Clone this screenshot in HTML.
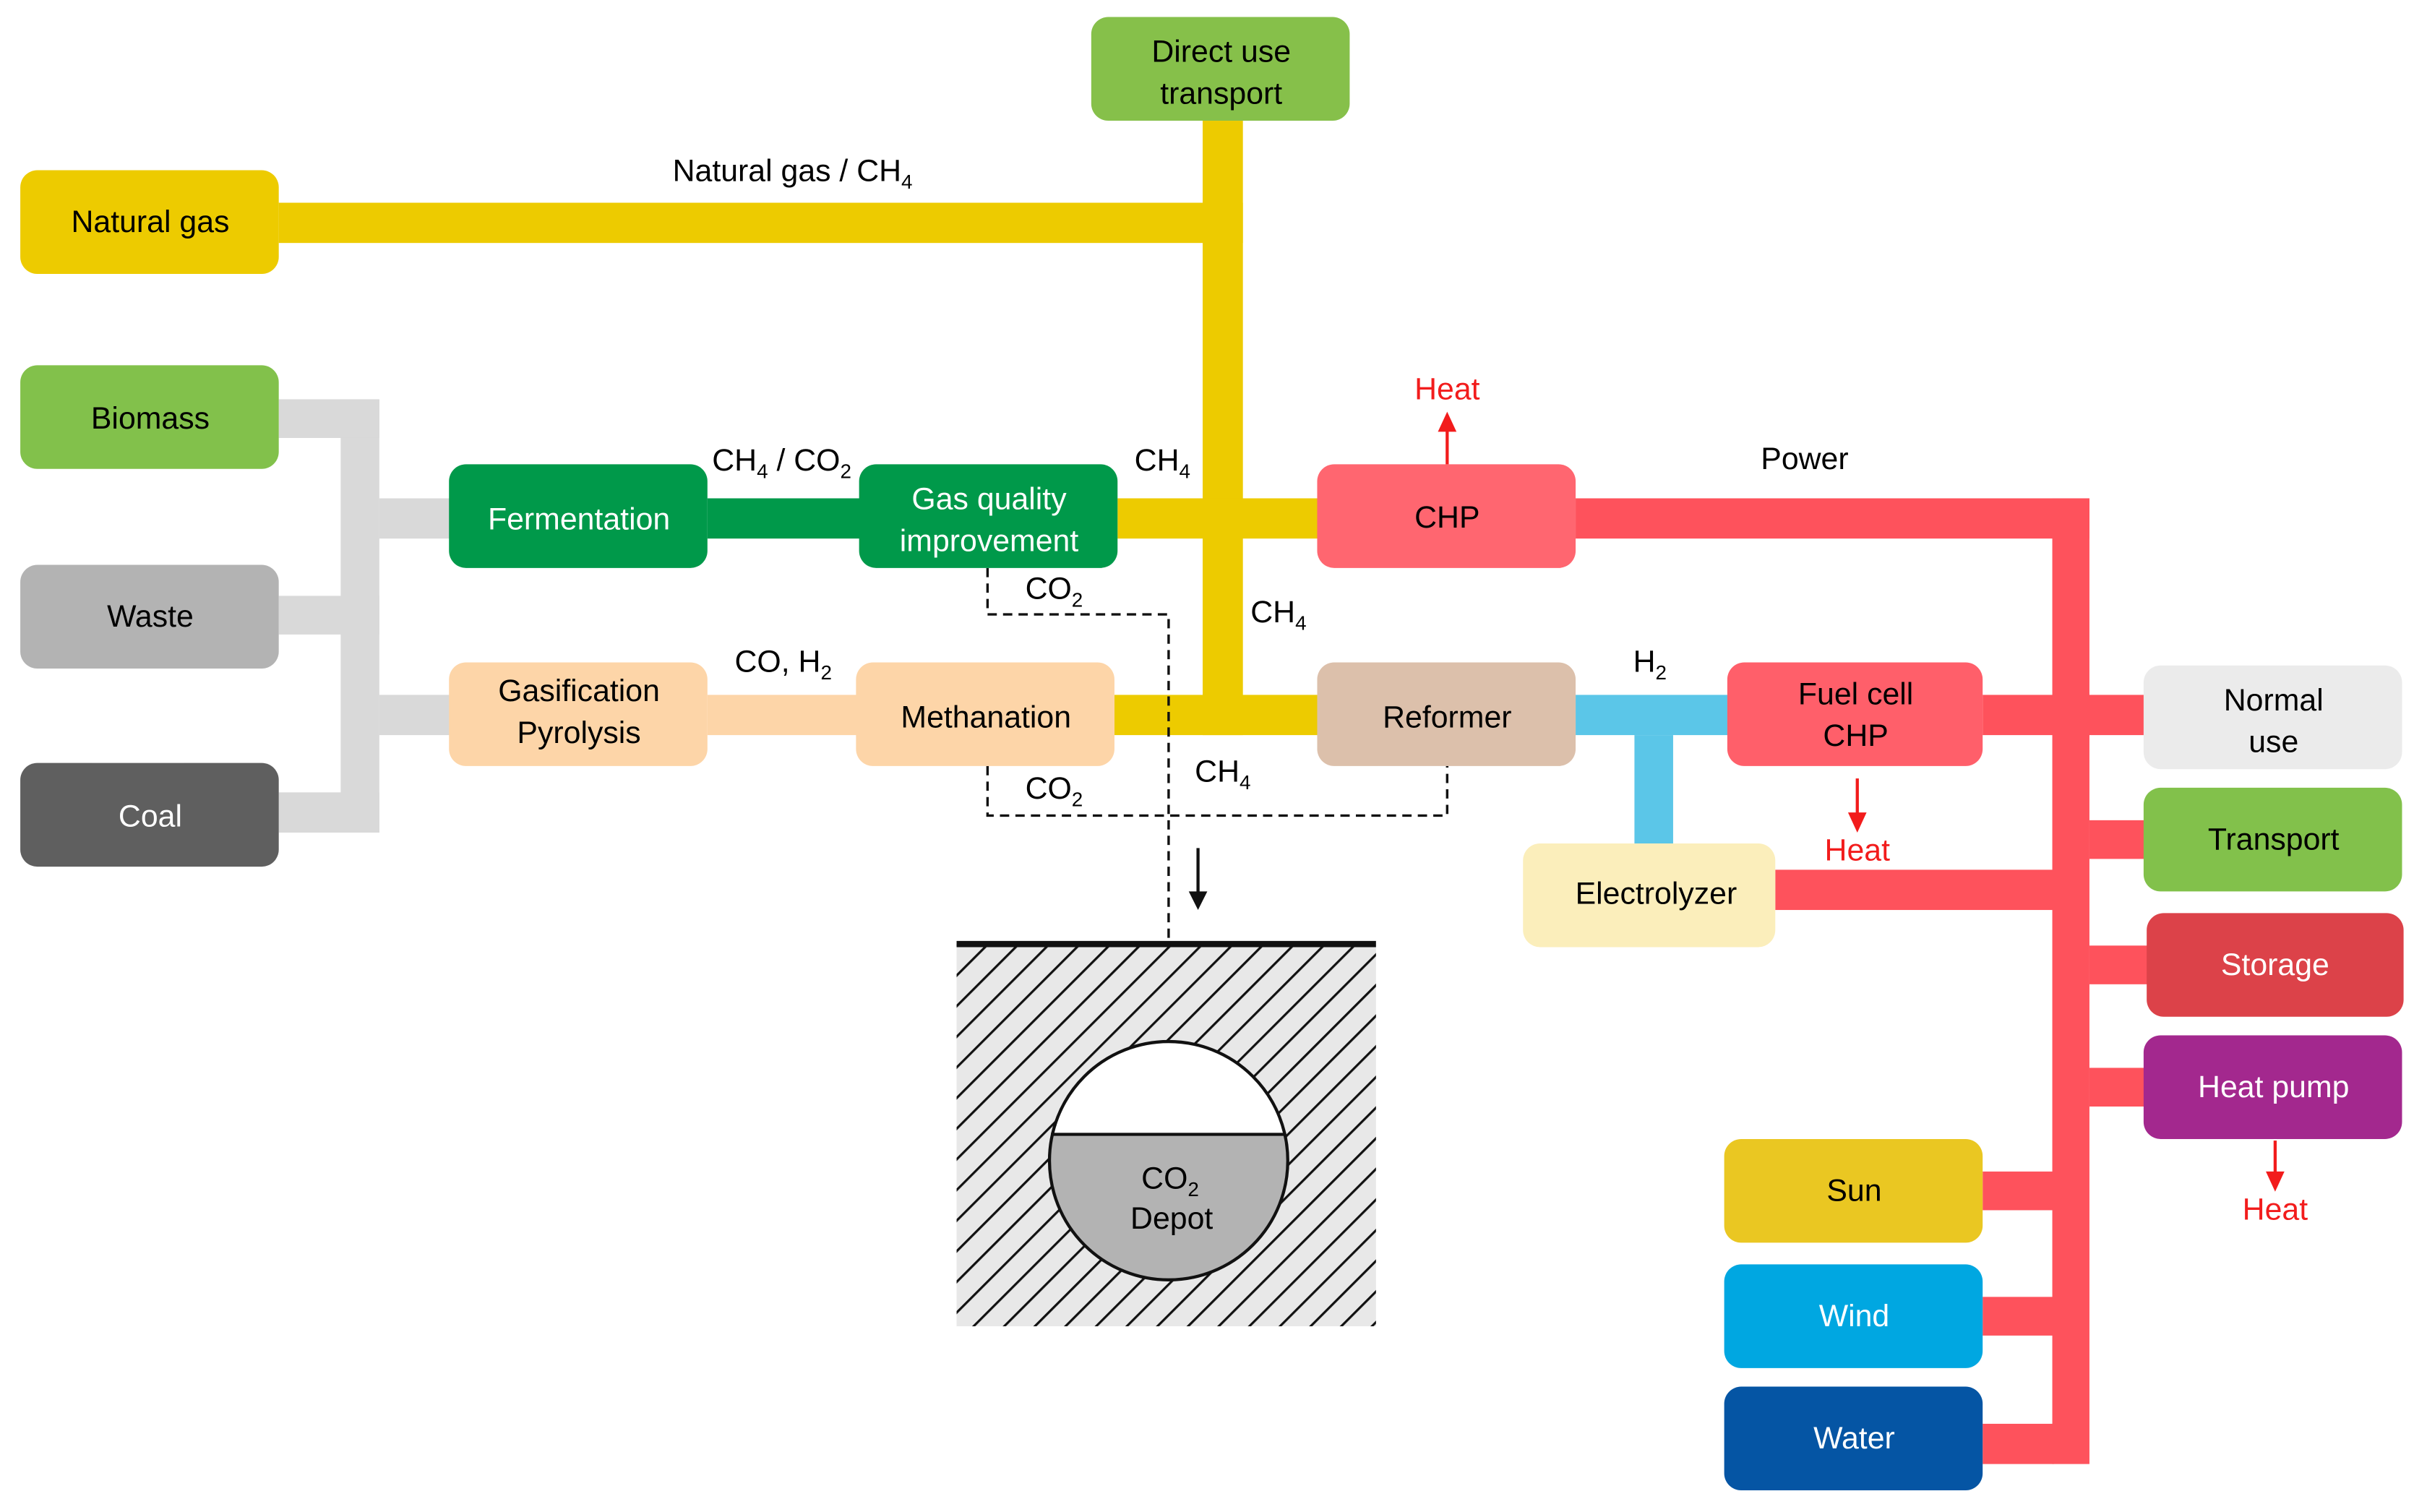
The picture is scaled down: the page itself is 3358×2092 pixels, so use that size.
<!DOCTYPE html>
<html><head><meta charset="utf-8"><style>
html,body{margin:0;padding:0;background:#fff;}
svg{display:block;}
text{font-family:"Liberation Sans Narrow","Liberation Sans",sans-serif;font-size:20px;text-anchor:middle;}
</style></head><body>
<svg width="3358" height="2092" viewBox="0 0 1568 977" xmlns="http://www.w3.org/2000/svg">
<defs>
<pattern id="hatch" patternUnits="userSpaceOnUse" width="14" height="14" patternTransform="rotate(45)">
<rect width="14" height="14" fill="#e8e8e8"/>
<line x1="0" y1="0" x2="0" y2="14" stroke="#111" stroke-width="3"/>
</pattern>
<clipPath id="bot"><rect x="670" y="733" width="170" height="100"/></clipPath>
</defs>
<!-- yellow -->
<rect x="180" y="131" width="623" height="26" fill="#edcb00"/>
<rect x="777" y="78" width="26" height="397" fill="#edcb00"/>
<rect x="722" y="322" width="130" height="26" fill="#edcb00"/>
<rect x="720" y="449" width="132" height="26" fill="#edcb00"/>
<!-- gray -->
<rect x="220" y="258" width="25" height="280" fill="#d9d9d9"/>
<rect x="180" y="258" width="65" height="25" fill="#d9d9d9"/>
<rect x="180" y="385" width="65" height="25" fill="#d9d9d9"/>
<rect x="180" y="512" width="65" height="26" fill="#d9d9d9"/>
<rect x="245" y="322" width="46" height="26" fill="#d9d9d9"/>
<rect x="245" y="449" width="46" height="26" fill="#d9d9d9"/>
<!-- green / peach -->
<rect x="457" y="322" width="99" height="26" fill="#00994a"/>
<rect x="457" y="449" width="97" height="26" fill="#fdd5a8"/>
<!-- red -->
<g fill="#fe525c">
<rect x="1018" y="322" width="332" height="26"/>
<rect x="1326" y="322" width="24" height="624"/>
<rect x="1281" y="449" width="105" height="26"/>
<rect x="1350" y="530" width="36" height="25"/>
<rect x="1350" y="611" width="38" height="25"/>
<rect x="1350" y="690" width="36" height="25"/>
<rect x="1147" y="562" width="180" height="26"/>
<rect x="1281" y="757" width="46" height="25"/>
<rect x="1281" y="838" width="46" height="25"/>
<rect x="1281" y="920" width="46" height="26"/>
</g>
<!-- blue -->
<rect x="1018" y="449" width="99" height="26" fill="#5bc6e8"/>
<rect x="1056" y="475" width="25" height="71" fill="#5bc6e8"/>
<!-- dashed -->
<g fill="none" stroke="#111" stroke-width="1.6" stroke-dasharray="6,4">
<polyline points="638,367 638,397 755,397 755,672"/>
<polyline points="638,495 638,527 935,527 935,495"/>
</g>
<line x1="774" y1="548" x2="774" y2="578" stroke="#111" stroke-width="2"/>
<polygon points="768,576 780,576 774,588" fill="#111"/>
<!-- ground -->
<rect x="618" y="610" width="271" height="247" fill="url(#hatch)"/>
<line x1="618" y1="610" x2="889" y2="610" stroke="#111" stroke-width="4"/>
<circle cx="755" cy="750" r="77" fill="#fff"/>
<circle cx="755" cy="750" r="77" fill="#b3b3b3" clip-path="url(#bot)"/>
<line x1="679" y1="733" x2="831" y2="733" stroke="#111" stroke-width="2"/>
<circle cx="755" cy="750" r="77" fill="none" stroke="#111" stroke-width="2"/>
<text x="756" y="768">CO<tspan font-size="13" dy="5">2</tspan></text>
<text x="757" y="794">Depot</text>
<!-- boxes -->
<g>
<rect x="705" y="11" width="167" height="67" rx="11" fill="#86c04a"/>
<text x="789" y="40">Direct use</text><text x="789" y="67">transport</text>
<rect x="13" y="110" width="167" height="67" rx="11" fill="#edcb00"/>
<text x="97" y="150">Natural gas</text>
<rect x="13" y="236" width="167" height="67" rx="11" fill="#82c14b"/>
<text x="97" y="277">Biomass</text>
<rect x="13" y="365" width="167" height="67" rx="11" fill="#b3b3b3"/>
<text x="97" y="405">Waste</text>
<rect x="13" y="493" width="167" height="67" rx="11" fill="#5f5f5f"/>
<text x="97" y="534" fill="#fff">Coal</text>
<rect x="290" y="300" width="167" height="67" rx="11" fill="#00994a"/>
<text x="374" y="342" fill="#fff">Fermentation</text>
<rect x="555" y="300" width="167" height="67" rx="11" fill="#00994a"/>
<text x="639" y="329" fill="#fff">Gas quality</text><text x="639" y="356" fill="#fff">improvement</text>
<rect x="290" y="428" width="167" height="67" rx="11" fill="#fdd5a8"/>
<text x="374" y="453">Gasification</text><text x="374" y="480">Pyrolysis</text>
<rect x="553" y="428" width="167" height="67" rx="11" fill="#fdd5a8"/>
<text x="637" y="470">Methanation</text>
<rect x="851" y="300" width="167" height="67" rx="11" fill="#ff6670"/>
<text x="935" y="341">CHP</text>
<rect x="851" y="428" width="167" height="67" rx="11" fill="#dcc0ab"/>
<text x="935" y="470">Reformer</text>
<rect x="1116" y="428" width="165" height="67" rx="11" fill="#ff5f6a"/>
<text x="1199" y="455">Fuel cell</text><text x="1199" y="482">CHP</text>
<rect x="984" y="545" width="163" height="67" rx="11" fill="#fbeebb"/>
<text x="1070" y="584">Electrolyzer</text>
<rect x="1385" y="430" width="167" height="67" rx="11" fill="#ebebeb"/>
<text x="1469" y="459">Normal</text><text x="1469" y="486">use</text>
<rect x="1385" y="509" width="167" height="67" rx="11" fill="#82c14b"/>
<text x="1469" y="549">Transport</text>
<rect x="1387" y="590" width="166" height="67" rx="11" fill="#dc4249"/>
<text x="1470" y="630" fill="#fff">Storage</text>
<rect x="1385" y="669" width="167" height="67" rx="11" fill="#a3288e"/>
<text x="1469" y="709" fill="#fff">Heat pump</text>
<rect x="1114" y="736" width="167" height="67" rx="11" fill="#eac722"/>
<text x="1198" y="776">Sun</text>
<rect x="1114" y="817" width="167" height="67" rx="11" fill="#00a7e1"/>
<text x="1198" y="857" fill="#fff">Wind</text>
<rect x="1114" y="896" width="167" height="67" rx="11" fill="#0555a4"/>
<text x="1198" y="936" fill="#fff">Water</text>
</g>
<!-- labels -->
<text x="512" y="117">Natural gas / CH<tspan font-size="13" dy="5">4</tspan></text>
<text x="505" y="304">CH<tspan font-size="13" dy="5">4</tspan><tspan dy="-5"> / CO</tspan><tspan font-size="13" dy="5">2</tspan></text>
<text x="751" y="304">CH<tspan font-size="13" dy="5">4</tspan></text>
<text x="681" y="387">CO<tspan font-size="13" dy="5">2</tspan></text>
<text x="826" y="402">CH<tspan font-size="13" dy="5">4</tspan></text>
<text x="506" y="434">CO, H<tspan font-size="13" dy="5">2</tspan></text>
<text x="681" y="516">CO<tspan font-size="13" dy="5">2</tspan></text>
<text x="790" y="505">CH<tspan font-size="13" dy="5">4</tspan></text>
<text x="1066" y="434">H<tspan font-size="13" dy="5">2</tspan></text>
<text x="1166" y="303">Power</text>
<g fill="#f21c1c">
<text x="935" y="258" fill="#f21c1c">Heat</text>
<rect x="934" y="276" width="2" height="24"/><polygon points="929,279 941,279 935,266"/>
<text x="1200" y="556" fill="#f21c1c">Heat</text>
<rect x="1199" y="503" width="2" height="24"/><polygon points="1194,525 1206,525 1200,538"/>
<text x="1470" y="788" fill="#f21c1c">Heat</text>
<rect x="1469" y="737" width="2" height="22"/><polygon points="1464,757 1476,757 1470,770"/>
</g>
</svg>
</body></html>
